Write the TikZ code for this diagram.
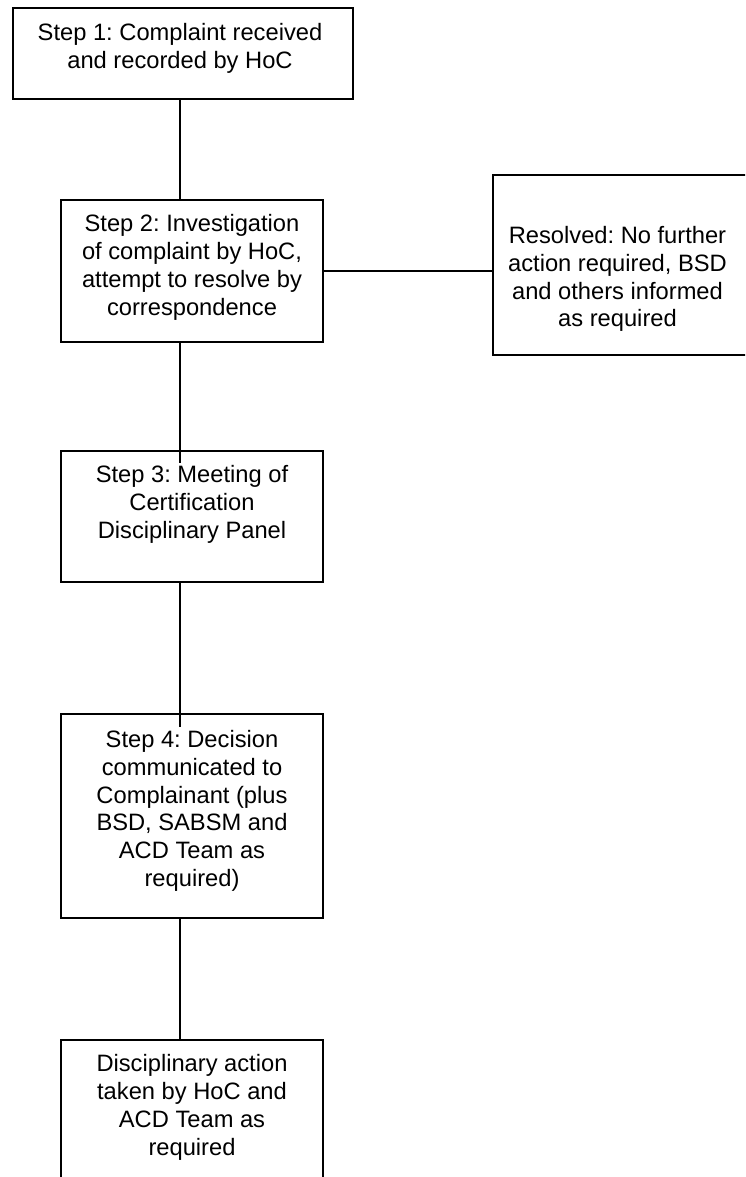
\documentclass[tikz,border=0pt]{standalone}
\usepackage{fontspec}
\setmainfont{Liberation Sans}
\usetikzlibrary{calc}
\frenchspacing
\begin{document}
\begin{tikzpicture}[x=1pt,y=-1pt,
  box/.style={draw=black,line width=1.8pt,rectangle,inner sep=0pt},
  txt/.style={anchor=north,inner sep=0pt,align=center,font=\fontsize{23.7}{27.8}\selectfont},
  conn/.style={draw=black,line width=1.8pt}]
\useasboundingbox (0,0) rectangle (745,1177);
\clip (0,0) rectangle (745,1177);
\newcommand{\fl}{\rule{0pt}{20pt}}
% boxes
\node[box,minimum width=340pt,minimum height=91pt] (b1) at (183,53.5) {};
\node[box,minimum width=262pt,minimum height=142pt] (b2) at (192,271) {};
\node[box,minimum width=267pt,minimum height=180pt] (r) at (626.5,265) {};
\node[box,minimum width=262pt,minimum height=131pt] (b3) at (192,516.5) {};
\node[box,minimum width=262pt,minimum height=204pt] (b4) at (192,816) {};
\node[box,minimum width=262pt,minimum height=159pt] (b5) at (192,1119.5) {};
% texts
\node[txt] (t1) at (180,20.7) {\fl Step 1: Complaint received\\and recorded by HoC};
\node[txt] (t2) at (192,211.7) {\fl Step 2: Investigation\\of complaint by HoC,\\attempt to resolve by\\correspondence};
\node[txt] (tr) at (617.5,223.3) {\fl Resolved: No further\\action required, BSD\\and others informed\\as required};
\node[txt] (t3) at (192,462.7) {\fl Step 3: Meeting of\\Certification\\Disciplinary Panel};
\node[txt] (t4) at (192,727.3) {\fl Step 4: Decision\\communicated to\\Complainant (plus\\BSD, SABSM and\\ACD Team as\\required)};
\node[txt] (t5) at (192,1051.7) {\fl Disciplinary action\\taken by HoC and\\ACD Team as\\required};
% connectors
\coordinate (spine) at (180,0);
\coordinate (e3) at ($(b3.north -| spine)+(0,13)$);
\coordinate (e4) at ($(b4.north -| spine)+(0,14)$);
\draw[conn] (b1.south -| spine) -- (b2.north -| spine);
\draw[conn] (b2.east) -- (b2.east -| r.west);
\draw[conn] (b2.south -| spine) -- (e3);
\draw[conn] (b3.south -| spine) -- (e4);
\draw[conn] (b4.south -| spine) -- (b5.north -| spine);
\end{tikzpicture}
\end{document}
